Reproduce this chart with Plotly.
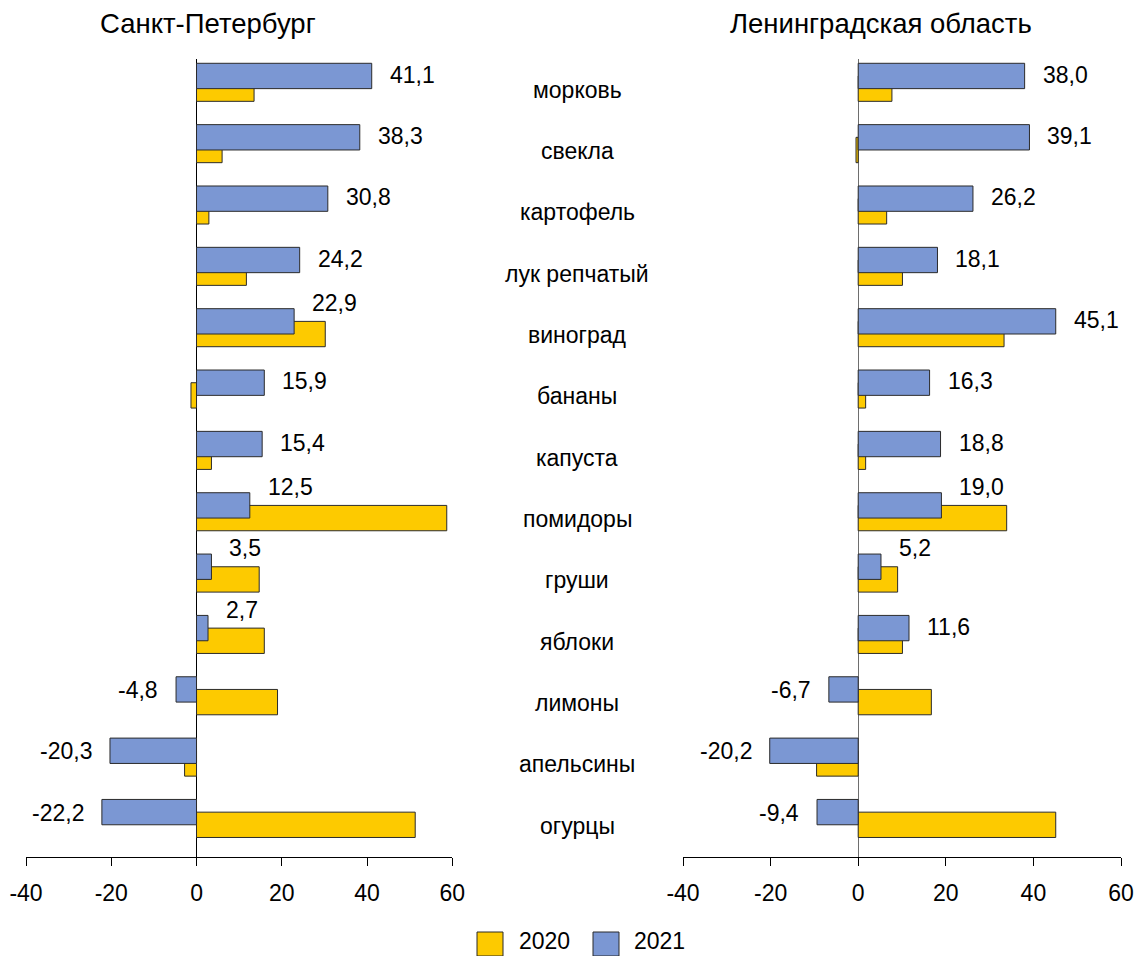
import plotly.graph_objects as go

# ---- data ----
categories = ["морковь", "свекла", "картофель", "лук репчатый", "виноград", "бананы",
              "капуста", "помидоры", "груши", "яблоки", "лимоны", "апельсины", "огурцы"]
spb_2021 = [41.1, 38.3, 30.8, 24.2, 22.9, 15.9, 15.4, 12.5, 3.5, 2.7, -4.8, -20.3, -22.2]
spb_2020 = [13.5, 6.0, 2.9, 11.7, 30.2, -1.3, 3.5, 58.7, 14.7, 15.9, 19.0, -2.8, 51.3]
lo_2021 = [38.0, 39.1, 26.2, 18.1, 45.1, 16.3, 18.8, 19.0, 5.2, 11.6, -6.7, -20.2, -9.4]
lo_2020 = [7.7, -0.5, 6.5, 10.1, 33.3, 1.7, 1.7, 33.9, 9.0, 10.1, 16.7, -9.5, 45.1]
panel_titles = ["Санкт-Петербург", "Ленинградская область"]
series_names = ["2020", "2021"]
x_ticks = [-40, -20, 0, 20, 40, 60]
x_tick_labels = ["-40", "-20", "0", "20", "40", "60"]

# ---- style ----
W, H = 1137, 956
FONT = "Liberation Sans, Arial, sans-serif"
FS = 23
YELLOW = "#FDCA00"
BLUE = "#7B97D3"
EDGE = "#2b2b2b"

def px_x(p):
    return p / W

def px_y(p):
    return 1 - p / H

fig = go.Figure()

panels = [(spb_2020, spb_2021, "x", "y"), (lo_2020, lo_2021, "x2", "y2")]
for v2020, v2021, xa, ya in panels:
    fig.add_trace(go.Bar(
        x=v2020, y=categories, orientation="h", name=series_names[0],
        xaxis=xa, yaxis=ya, offset=-0.223, width=0.413,
        marker=dict(color=YELLOW, line=dict(color=EDGE, width=1)),
        showlegend=False))
    fig.add_trace(go.Bar(
        x=v2021, y=categories, orientation="h", name=series_names[1],
        xaxis=xa, yaxis=ya, offset=-0.43, width=0.413,
        marker=dict(color=BLUE, line=dict(color=EDGE, width=1)),
        showlegend=False))

annotations = []
for v2020, v2021, xa, ya in panels:
    for cat, a, b in zip(categories, v2020, v2021):
        txt = f"{b:.1f}".replace(".", ",")
        if b < 0:
            annotations.append(dict(x=b, y=cat, xref=xa, yref=ya, text=txt,
                                    xanchor="right", yanchor="middle",
                                    xshift=-16, yshift=13, showarrow=False))
        elif a > b:
            annotations.append(dict(x=b, y=cat, xref=xa, yref=ya, text=txt,
                                    xanchor="left", yanchor="middle",
                                    xshift=16, yshift=32, showarrow=False))
        else:
            annotations.append(dict(x=b, y=cat, xref=xa, yref=ya, text=txt,
                                    xanchor="left", yanchor="middle",
                                    xshift=16, yshift=15, showarrow=False))

# category labels between panels
for cat in categories:
    annotations.append(dict(x=px_x(577), y=cat, xref="paper", yref="y2", text=cat,
                            xanchor="center", yanchor="middle", showarrow=False))

# panel titles
for title, cx in zip(panel_titles, [207.5, 880.7]):
    annotations.append(dict(x=px_x(cx), y=px_y(24), xref="paper", yref="paper",
                            text=title, xanchor="center", yanchor="middle",
                            font=dict(size=27.5), showarrow=False))

# legend (manual)
shapes = []
for name, color, x0, tx in [(series_names[0], YELLOW, 477, 517), (series_names[1], BLUE, 593, 632)]:
    shapes.append(dict(type="rect", xref="paper", yref="paper",
                       x0=px_x(x0), x1=px_x(x0 + 26), y0=px_y(956), y1=px_y(932),
                       fillcolor=color, line=dict(color=EDGE, width=1)))
    annotations.append(dict(x=px_x(tx), y=px_y(941), xref="paper", yref="paper",
                            text=name, xanchor="left", yanchor="middle", showarrow=False))

xcommon = dict(range=[-40, 60], tickvals=x_ticks, ticktext=x_tick_labels,
               ticks="outside", ticklen=8,
               tickcolor="black", tickwidth=1, showline=True, linecolor="black",
               linewidth=1, showgrid=False, zeroline=True,
               zerolinewidth=1, tickfont=dict(size=FS, color="black"),
               ticklabelstandoff=8, automargin=False, fixedrange=True)
ycommon = dict(type="category", categoryorder="array", categoryarray=categories,
               range=[12.5, -0.5], showticklabels=False, showgrid=False,
               zeroline=False, showline=False, ticks="", automargin=False,
               domain=[px_y(856.5), px_y(59)], fixedrange=True)

fig.update_layout(
    width=W, height=H,
    margin=dict(l=0, r=0, t=0, b=0, autoexpand=False),
    paper_bgcolor="white", plot_bgcolor="white",
    barmode="overlay",
    font=dict(family=FONT, size=FS, color="black"),
    xaxis=dict(domain=[px_x(26), px_x(452.3)], anchor="y", zerolinecolor="black", **xcommon),
    yaxis=dict(anchor="x", **ycommon),
    xaxis2=dict(domain=[px_x(683), px_x(1121)], anchor="y2", zerolinecolor="#6e6e6e", **xcommon),
    yaxis2=dict(anchor="x2", **ycommon),
    annotations=annotations,
    shapes=shapes,
    showlegend=False,
)

fig.write_html("out.html", config={"displayModeBar": False},
               post_script="document.body.style.margin='0';document.body.style.overflow='hidden';")
